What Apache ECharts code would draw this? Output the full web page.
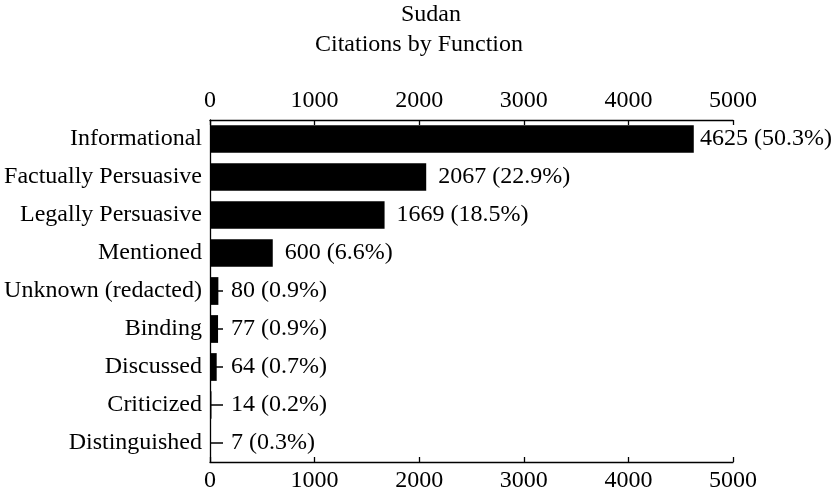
<!DOCTYPE html>
<html>
<head>
<meta charset="utf-8">
<script src="https://cdn.jsdelivr.net/npm/echarts@6/dist/echarts.min.js"></script>
<style>
html,body{margin:0;padding:0;background:#fff;}
#chart{width:833px;height:494px;}
</style>
</head>
<body>
<div id="chart"></div>
<script>
var titleLines = ['Sudan', 'Citations by Function'];
var categories = ['Informational', 'Factually Persuasive', 'Legally Persuasive', 'Mentioned',
  'Unknown (redacted)', 'Binding', 'Discussed', 'Criticized', 'Distinguished'];
var counts = [4625, 2067, 1669, 600, 80, 77, 64, 14, 7];
var percents = ['50.3%', '22.9%', '18.5%', '6.6%', '0.9%', '0.9%', '0.7%', '0.2%', '0.3%'];
var axisMin = 0, axisMax = 5000, axisStep = 1000;

var FONT = '"Liberation Serif", "Times New Roman", serif';
var FS = 24;
var gridLeft = 210, gridRight = 100, gridTop = 120, gridBottom = 32;
var W = 833, plotW = W - gridLeft - gridRight;

var cv = document.createElement('canvas').getContext('2d');
cv.font = FS + 'px ' + FONT;
function labelText(i) { return counts[i] + ' (' + percents[i] + ')'; }
function labelDistance(i) {
  var end = gridLeft + (counts[i] - axisMin) / (axisMax - axisMin) * plotW;
  var w = cv.measureText(labelText(i)).width;
  var d = Math.max(12, 231 - end);
  d = Math.min(d, W - 1 - end - w);
  return d;
}

var chart = echarts.init(document.getElementById('chart'));
var axisCommon = {
  type: 'value', min: axisMin, max: axisMax, interval: axisStep,
  splitLine: { show: false },
  axisLine: { show: true, lineStyle: { color: '#000', width: 1.3 } },
  axisTick: { show: true, inside: true, length: 5, lineStyle: { color: '#000', width: 1.3 } },
  axisLabel: { color: '#000', fontFamily: FONT, fontSize: FS, margin: 7,
    formatter: function (v) { return String(v); } }
};
chart.setOption({
  backgroundColor: '#fff',
  animation: false,
  graphic: [
    { type: 'text', x: 431, y: 15, style: { text: titleLines[0], font: FS + 'px ' + FONT, fill: '#000', textAlign: 'center', textVerticalAlign: 'middle' } },
    { type: 'text', x: 419, y: 45, style: { text: titleLines[1], font: FS + 'px ' + FONT, fill: '#000', textAlign: 'center', textVerticalAlign: 'middle' } }
  ],
  grid: { left: gridLeft, right: gridRight, top: gridTop, bottom: gridBottom, containLabel: false },
  xAxis: [
    Object.assign({}, axisCommon, { position: 'top' }),
    Object.assign({}, axisCommon, { position: 'bottom' })
  ],
  yAxis: {
    type: 'category', data: categories, inverse: true,
    axisLine: { show: true, lineStyle: { color: '#000', width: 1.3 } },
    axisTick: { show: true, inside: true, length: 13, alignWithLabel: true, lineStyle: { color: '#000', width: 1.5 } },
    axisLabel: { color: '#000', fontFamily: FONT, fontSize: FS, margin: 8 }
  },
  series: [{
    type: 'bar', xAxisIndex: 0,
    barWidth: '73%',
    itemStyle: { color: '#000' },
    data: counts.map(function (v, i) {
      return {
        value: v,
        label: {
          show: true, position: 'right', distance: labelDistance(i),
          formatter: labelText(i), color: '#000', fontFamily: FONT, fontSize: FS
        }
      };
    })
  }]
});
</script>
</body>
</html>
